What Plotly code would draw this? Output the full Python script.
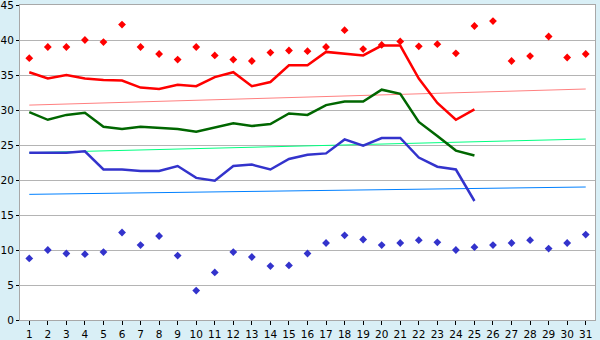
import plotly.graph_objects as go

days = list(range(1, 32))
rec_max = [37.4, 39.0, 39.0, 40.0, 39.7, 42.2, 39.0, 38.0, 37.2, 39.0, 37.8, 37.2, 37.0, 38.2, 38.5,
           38.4, 39.0, 41.4, 38.7, 39.3, 39.8, 39.1, 39.4, 38.1, 42.0, 42.7, 37.0, 37.7, 40.5, 37.5, 38.0]
rec_min = [8.8, 10.0, 9.5, 9.4, 9.7, 12.5, 10.7, 12.0, 9.2, 4.2, 6.8, 9.7, 9.0, 7.7, 7.8,
           9.5, 11.0, 12.1, 11.5, 10.7, 11.0, 11.4, 11.1, 10.0, 10.4, 10.7, 11.0, 11.4, 10.2, 11.0, 12.2]
tmax = [35.4, 34.5, 35.0, 34.5, 34.3, 34.2, 33.2, 33.0, 33.6, 33.4, 34.7, 35.4, 33.4, 34.0, 36.4,
        36.4, 38.3, 38.0, 37.8, 39.2, 39.2, 34.5, 31.0, 28.6, 30.1]
tavg = [29.7, 28.6, 29.3, 29.6, 27.6, 27.3, 27.6, 27.4, 27.3, 26.9, 27.5, 28.1, 27.7, 28.0, 29.5,
        29.3, 30.7, 31.2, 31.2, 32.9, 32.3, 28.3, 26.3, 24.2, 23.5]
tmin = [23.9, 23.9, 23.9, 24.1, 21.5, 21.5, 21.3, 21.3, 22.0, 20.3, 19.9, 22.0, 22.2, 21.5, 23.0,
        23.6, 23.8, 25.8, 24.9, 26.0, 26.0, 23.2, 21.9, 21.5, 17.0]
norm_days = [1, 31]
norm_max = [30.7, 33.0]
norm_avg = [23.9, 25.85]
norm_min = [17.95, 19.0]
y_ticks = [0, 5, 10, 15, 20, 25, 30, 35, 40, 45]

fig = go.Figure()
fig.add_trace(go.Scatter(x=norm_days, y=norm_max, mode="lines", line=dict(color="#ff8080", width=1)))
fig.add_trace(go.Scatter(x=norm_days, y=norm_avg, mode="lines", line=dict(color="#00ff80", width=1)))
fig.add_trace(go.Scatter(x=norm_days, y=norm_min, mode="lines", line=dict(color="#0080ff", width=1)))
fig.add_trace(go.Scatter(x=days[:len(tmax)], y=tmax, mode="lines", line=dict(color="#ff0000", width=2.5)))
fig.add_trace(go.Scatter(x=days[:len(tavg)], y=tavg, mode="lines", line=dict(color="#006600", width=2.5)))
fig.add_trace(go.Scatter(x=days[:len(tmin)], y=tmin, mode="lines", line=dict(color="#3333cc", width=2.5)))
fig.add_trace(go.Scatter(x=days, y=rec_max, mode="markers",
                         marker=dict(symbol="diamond", size=6, color="#ff0000")))
fig.add_trace(go.Scatter(x=days, y=rec_min, mode="markers",
                         marker=dict(symbol="diamond", size=6, color="#3333cc")))

fig.update_layout(
    width=600, height=340,
    margin=dict(l=20, r=5, t=5, b=20, autoexpand=False),
    paper_bgcolor="#d9eff6",
    plot_bgcolor="#ffffff",
    showlegend=False,
    font=dict(family="DejaVu Sans", size=10.5, color="#000000"),
)
fig.update_xaxes(range=[0.5, 31.5], tickmode="array", tickvals=days, ticktext=[str(d) for d in days],
                 showgrid=False, zeroline=False, showline=True, linecolor="#a8a8a8", linewidth=1,
                 mirror=True, ticks="outside", ticklen=4, tickcolor="#000000", tickwidth=1,
                 automargin=False, tickangle=0, ticklabeloverflow="allow")
fig.update_yaxes(range=[0, 45], tickmode="array", tickvals=y_ticks, ticktext=[str(v) for v in y_ticks],
                 showgrid=True, gridcolor="#b4b4b4", gridwidth=1,
                 zeroline=False, showline=True, linecolor="#a8a8a8", linewidth=1, mirror=True,
                 ticks="outside", ticklen=3, tickcolor="#000000", tickwidth=1, automargin=False,
                 ticklabeloverflow="allow")

fig.write_html("out.html")
